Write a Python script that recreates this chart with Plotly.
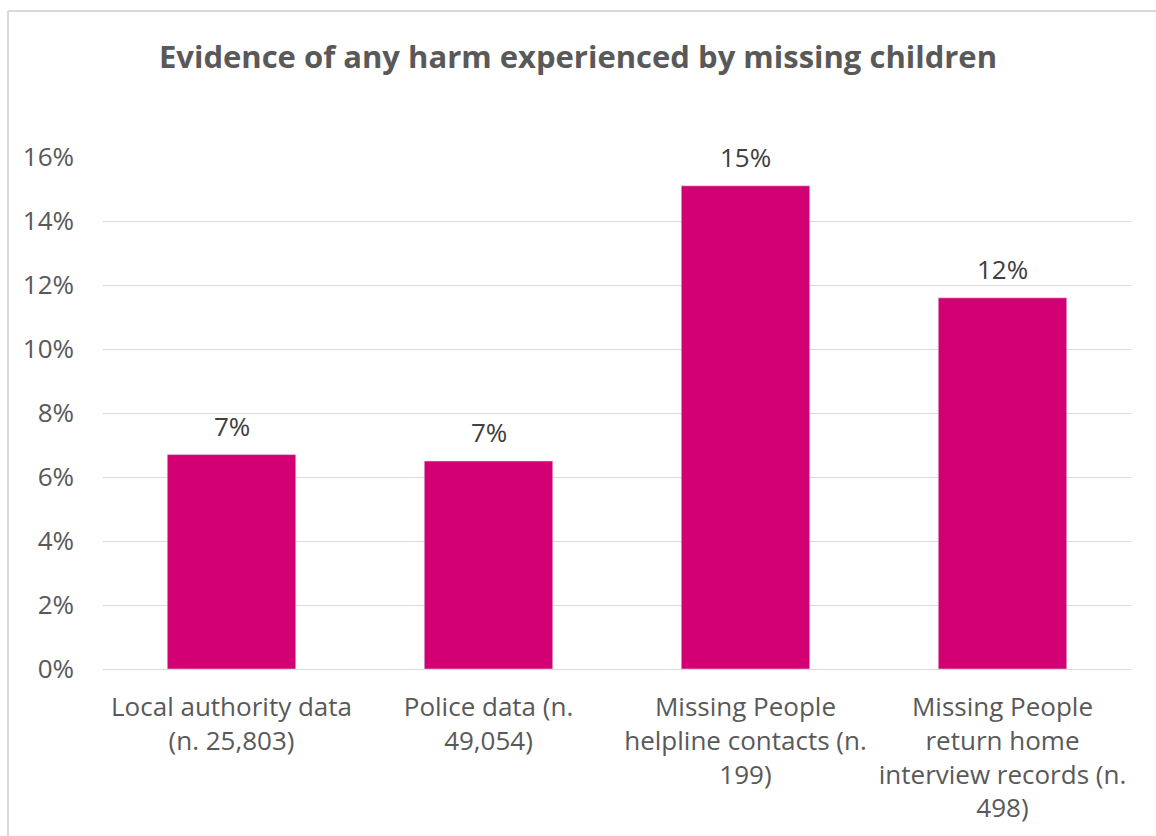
import plotly.graph_objects as go
from decimal import Decimal, ROUND_HALF_UP

categories = [
    "Local authority data<br>(n. 25,803)",
    "Police data (n.<br>49,054)",
    "Missing People<br>helpline contacts (n.<br>199)",
    "Missing People<br>return home<br>interview records (n.<br>498)",
]
values = [6.7, 6.5, 15.1, 11.6]
tick_vals = [0, 2, 4, 6, 8, 10, 12, 14, 16]
tick_text = ["0%", "2%", "4%", "6%", "8%", "10%", "12%", "14%", "16%"]

W, H = 1156, 836
L, R, T, B = 103, 25, 157, 167
pw, ph = W - L - R, H - T - B

FONT = "Open Sans"
BAR = "#D20073"


def pct(v):
    return f"{Decimal(str(v)).quantize(Decimal('1'), rounding=ROUND_HALF_UP)}%"


fig = go.Figure(go.Bar(
    x=categories, y=values, marker_color=BAR, width=0.5,
    hoverinfo="skip",
))

for c, v in zip(categories, values):
    fig.add_annotation(x=c, y=v, text=pct(v), showarrow=False,
                       yanchor="bottom", yshift=9,
                       font=dict(family=FONT, size=26, color="#404040"))

# light grey chart border (left and top edges visible)
bx = (8 - L) / pw
by = (H - B - 11) / ph
fig.add_shape(type="line", xref="paper", yref="paper", x0=bx, x1=bx, y0=-1, y1=by,
              line=dict(color="#d9d9d9", width=2))
fig.add_shape(type="line", xref="paper", yref="paper", x0=bx, x1=1.5, y0=by, y1=by,
              line=dict(color="#d9d9d9", width=2))

fig.update_layout(
    width=W, height=H,
    margin=dict(l=L, r=R, t=T, b=B),
    paper_bgcolor="white", plot_bgcolor="white",
    showlegend=False,
    title=dict(text="<b>Evidence of any harm experienced by missing children</b>",
               x=0.5, xanchor="center", y=1 - 57 / H, yanchor="middle",
               font=dict(family=FONT, size=31, color="#595959")),
    xaxis=dict(showgrid=False, showline=False, ticks="", zeroline=False,
               ticklabelstandoff=20, automargin=False,
               tickfont=dict(family=FONT, size=26, color="#595959")),
    yaxis=dict(range=[0, 16], tickvals=tick_vals, ticktext=tick_text,
               showgrid=True, gridcolor="#d9d9d9", gridwidth=1,
               zeroline=True, zerolinecolor="#d9d9d9", zerolinewidth=1,
               showline=False, ticks="", ticklabelstandoff=28, automargin=False,
               tickfont=dict(family=FONT, size=26, color="#595959")),
)

fig.write_html("out.html")
